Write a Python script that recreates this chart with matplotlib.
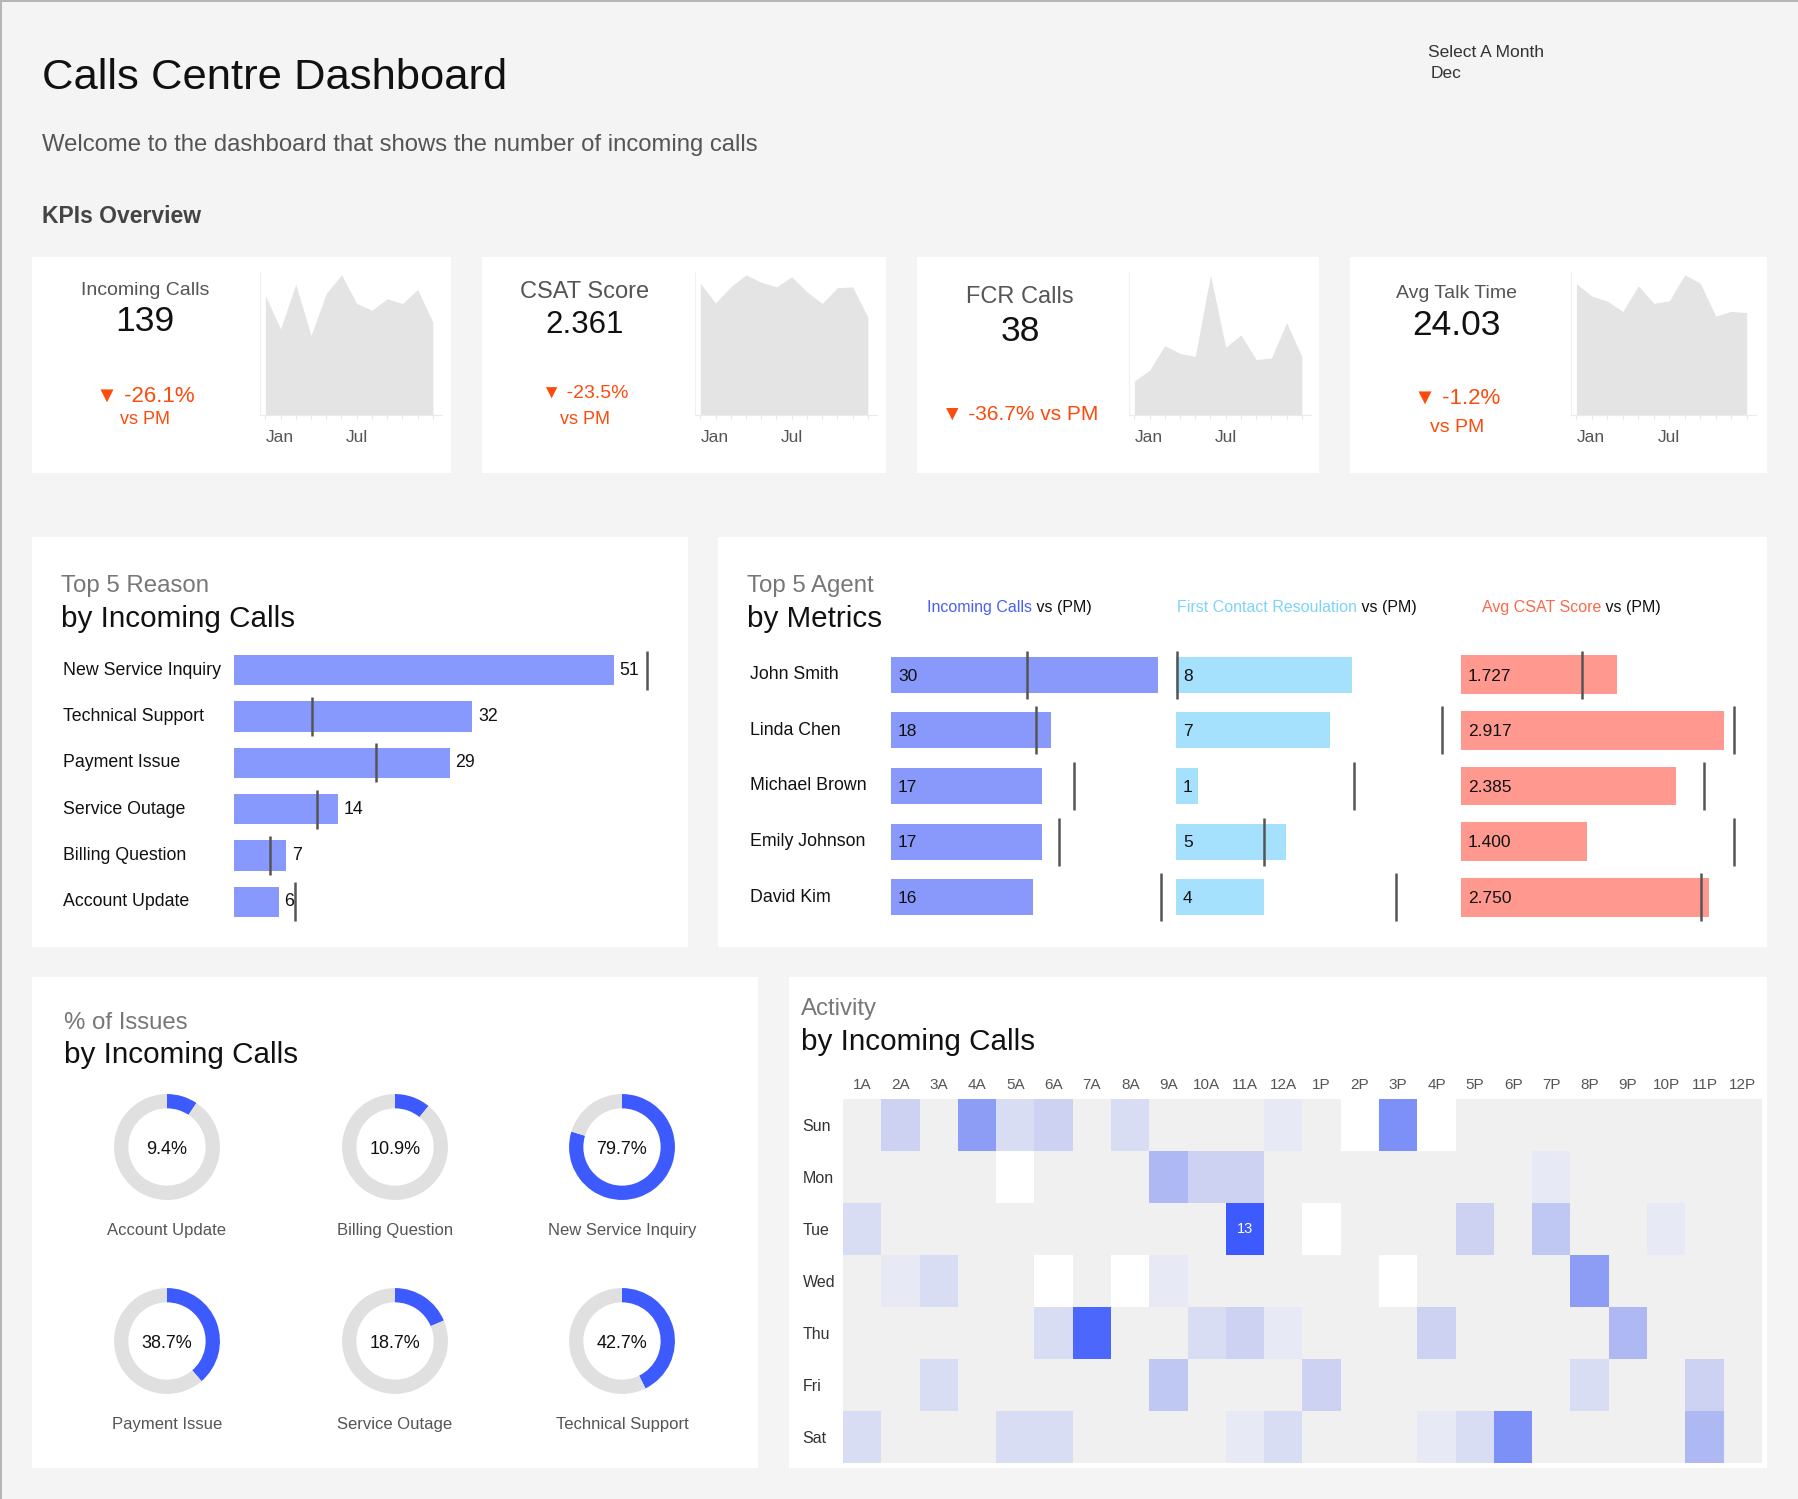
import matplotlib.pyplot as plt
import numpy as np
from matplotlib.colors import LinearSegmentedColormap
from matplotlib.patches import Rectangle
from matplotlib.transforms import blended_transform_factory

plt.rcParams['font.family'] = ['Liberation Sans', 'DejaVu Sans']

# ---- data ----
months = ['Jan', 'Feb', 'Mar', 'Apr', 'May', 'Jun', 'Jul', 'Aug', 'Sep', 'Oct', 'Nov', 'Dec']
kpi_names = ['Incoming Calls', 'CSAT Score', 'FCR Calls', 'Avg Talk Time']
kpi_values = ['139', '2.361', '38', '24.03']
kpi_deltas = ['-26.1%', '-23.5%', '-36.7%', '-1.2%']
incoming_trend = [179, 129, 196, 119, 182, 210, 167, 157, 174, 167, 188, 139]
csat_trend = [3.175, 2.70, 3.09, 3.38, 3.20, 3.09, 3.33, 2.97, 2.69, 3.07, 3.087, 2.361]
fcr_trend = [22, 29, 45, 40, 38, 91, 44, 52, 36, 37, 60, 38]
talk_trend = [30.8, 27.9, 26.7, 24.3, 30.3, 26.2, 26.8, 32.9, 30.9, 23.2, 24.32, 24.03]

reasons = ['New Service Inquiry', 'Technical Support', 'Payment Issue',
           'Service Outage', 'Billing Question', 'Account Update']
reason_calls = [51, 32, 29, 14, 7, 6]
reason_pm = [55.4, 10.5, 19.1, 11.1, 4.9, 8.2]

agents = ['John Smith', 'Linda Chen', 'Michael Brown', 'Emily Johnson', 'David Kim']
agent_calls = [30, 18, 17, 17, 16]
agent_calls_pm = [15.3, 16.3, 20.6, 18.9, 30.4]
agent_fcr = [8, 7, 1, 5, 4]
agent_fcr_pm = [0.05, 12.1, 8.1, 4.0, 10.0]
agent_csat = [1.727, 2.917, 2.385, 1.400, 2.750]
agent_csat_pm = [1.343, 3.02, 2.69, 3.02, 2.655]

issue_names = ['Account Update', 'Billing Question', 'New Service Inquiry',
               'Payment Issue', 'Service Outage', 'Technical Support']
issue_pct = [9.4, 10.9, 79.7, 38.7, 18.7, 42.7]

hours = ['1A', '2A', '3A', '4A', '5A', '6A', '7A', '8A', '9A', '10A', '11A', '12A',
         '1P', '2P', '3P', '4P', '5P', '6P', '7P', '8P', '9P', '10P', '11P', '12P']
days = ['Sun', 'Mon', 'Tue', 'Wed', 'Thu', 'Fri', 'Sat']
N = None
activity = [
    [N, 4, N, 8, 3, 4, N, 3, N, N, N, 2, N, 1, 9, 1, N, N, N, N, N, N, N, N],
    [N, N, N, N, 1, N, N, N, 6, 4, 4, N, N, N, N, N, N, N, 2, N, N, N, N, N],
    [3, N, N, N, N, N, N, N, N, N, 13, N, 1, N, N, N, 4, N, 5, N, N, 2, N, N],
    [N, 2, 3, N, N, 1, N, 1, 2, N, N, N, N, N, 1, N, N, N, N, 8, N, N, N, N],
    [N, N, N, N, N, 3, 12, N, N, 3, 4, 2, N, N, N, 4, N, N, N, N, 6, N, N, N],
    [N, N, 3, N, N, N, N, N, 5, N, N, N, 4, N, N, N, N, N, N, 3, N, N, 4, N],
    [3, N, N, N, 3, 3, N, N, N, N, 2, 3, N, N, N, 2, 3, 9, N, N, N, N, 6, N],
]

# ---- canvas ----
W, H = 1799, 1499
fig = plt.figure(figsize=(W / 100, H / 100), dpi=100, facecolor='#f4f4f4')
bg = fig.add_axes([0, 0, 1, 1])
bg.set_xlim(0, W)
bg.set_ylim(H, 0)
bg.axis('off')
renderer = fig.canvas.get_renderer()

ORANGE = '#fc4b0c'


def box(x0, y0, x1, y1):
    return fig.add_axes([x0 / W, 1 - y1 / H, (x1 - x0) / W, (y1 - y0) / H])


def card(x0, y0, x1, y1):
    bg.add_patch(Rectangle((x0, y0), x1 - x0, y1 - y0, color='white', lw=0))


def txt(x, y, s, size, color='#111', **kw):
    kw.setdefault('va', 'center')
    # small shift: matplotlib centres on the box including descent
    return bg.text(x, y + 3, s, fontsize=size, color=color, **kw)


# borders
bg.add_patch(Rectangle((0, 0), W, 2, color='#b5b5b5', lw=0))
bg.add_patch(Rectangle((0, 0), 2, H, color='#b5b5b5', lw=0))

txt(42, 75, 'Calls Centre Dashboard', 31.3)
txt(42, 142, 'Welcome to the dashboard that shows the number of incoming calls', 17.2, '#555')
txt(42, 213, 'KPIs Overview', 16.5, '#444', weight='bold')
txt(1428, 49, 'Select A Month', 12.5, '#333')
txt(1431, 70, 'Dec', 12.5, '#333')

# ---- KPI cards ----
cards = [(32, 257, 451, 473), (482, 257, 886, 473), (917, 257, 1319, 473), (1350, 257, 1767, 473)]
spark_x = [(260, 442), (695, 877), (1129, 1311), (1571, 1756)]
text_x = [145, 585, 1020, 1457]
name_style = [(287, 14), (289, 17), (294, 17), (290, 14)]
value_style = [(318, 25.5), (322, 22.5), (328, 25.5), (322, 25.5)]
delta_style = [(393, 16, 416, 13), (390, 14, 416, 13), (411, 15, None, None), (395, 16, 424, 14)]
trends = [incoming_trend, csat_trend, fcr_trend, talk_trend]

for k in range(4):
    card(*cards[k])
    cx = text_x[k]
    txt(cx, name_style[k][0], kpi_names[k], name_style[k][1], '#555', ha='center')
    txt(cx, value_style[k][0], kpi_values[k], value_style[k][1], '#111', ha='center')
    dy, ds, vy, vs = delta_style[k]
    if vy is None:
        txt(cx, dy, '\u25bc ' + kpi_deltas[k] + ' vs PM', ds, ORANGE, ha='center')
    else:
        txt(cx, dy, '\u25bc ' + kpi_deltas[k], ds, ORANGE, ha='center')
        txt(cx, vy, 'vs PM', vs, ORANGE, ha='center')

    vals = trends[k]
    x0, x1 = spark_x[k]
    ax = box(x0, 272, x1, 415)
    ax.fill_between(range(12), vals, color='#e4e4e4', lw=0)
    ax.set_xlim(-0.35, 11.6)
    ax.set_ylim(0, max(vals) * 1.02)
    ax.set_yticks([])
    ax.set_xticks(range(12))
    ax.set_xticklabels([m if m in ('Jan', 'Jul') else '' for m in months], fontsize=12.5, color='#555')
    ax.get_xticklabels()[0].set_ha('left')
    ax.tick_params(axis='x', length=3, color='#e8e8e8', pad=8)
    ax.spines['top'].set_visible(False)
    ax.spines['right'].set_visible(False)
    ax.spines['left'].set_color('#f0f0f0')
    ax.spines['bottom'].set_color('#ebebeb')
    ax.patch.set_alpha(0)

# ---- Top 5 Reason ----
card(32, 537, 688, 947)
txt(61, 583, 'Top 5 Reason', 17.3, '#777')
txt(61, 616, 'by Incoming Calls', 21.3, '#111')
ax = box(234, 647, 660, 925)
rows = np.arange(len(reasons))
ax.barh(rows, reason_calls, height=0.65, color='#8799fc')
ax.vlines(reason_pm, rows - 0.42, rows + 0.42, color='#555', lw=1.8)
ax.set_xlim(0, 57.2)
ax.set_ylim(len(reasons) - 0.5, -0.5)
ax.axis('off')
tr = blended_transform_factory(ax.transAxes, ax.transData)
for i, (name, v) in enumerate(zip(reasons, reason_calls)):
    ax.annotate(str(v), (v, i), xytext=(4, 0), textcoords='offset points',
                va='center', fontsize=12.8, color='#111')
    ax.text(-0.401, i, name, transform=tr, va='center', fontsize=12.8, color='#111')

# ---- Top 5 Agent ----
card(718, 537, 1767, 947)
txt(747, 583, 'Top 5 Agent', 17.3, '#777')
txt(747, 616, 'by Metrics', 21.3, '#111')

headers = [('Incoming Calls', '#4a5ff7', 927), ('First Contact Resoulation', '#7fd3fb', 1177),
           ('Avg CSAT Score', '#fa6a4c', 1482)]
for label, col, hx in headers:
    t = txt(hx, 609, label, 11.5, col, va='baseline')
    bb = t.get_window_extent(renderer)
    xe = bg.transData.inverted().transform((bb.x1, bb.y0))[0]
    txt(xe, 609, ' vs (PM)', 11.5, '#111', va='baseline')

metrics = [
    (agent_calls, agent_calls_pm, '{:d}', (891, 1165), 30.8, '#8899fb', 0.65),
    (agent_fcr, agent_fcr_pm, '{:d}', (1176, 1445), 12.23, '#a5e1fd', 0.65),
    (agent_csat, agent_csat_pm, '{:.3f}', (1461, 1738), 3.067, '#ff998f', 0.7),
]
arows = np.arange(len(agents))
for m, (vals, pm, fmt, (x0, x1), xmax, col, bh) in enumerate(metrics):
    ax = box(x0, 647, x1, 925)
    ax.barh(arows, vals, height=bh, color=col)
    ax.vlines(pm, arows - 0.43, arows + 0.43, color='#555', lw=1.8)
    ax.set_xlim(0, xmax)
    ax.set_ylim(len(agents) - 0.5, -0.5)
    ax.axis('off')
    for i, v in enumerate(vals):
        ax.annotate(fmt.format(v), (0, i), xytext=(5, -1), textcoords='offset points',
                    va='center', fontsize=12.5, color='#111')
    if m == 0:
        tr = blended_transform_factory(ax.transAxes, ax.transData)
        for i, name in enumerate(agents):
            ax.text(-0.515, i, name, transform=tr, va='center', fontsize=12.8, color='#111')

# ---- % of Issues donuts ----
card(32, 977, 758, 1468)
txt(64, 1020, '% of Issues', 17.3, '#777')
txt(64, 1052, 'by Incoming Calls', 21.3, '#111')
dx = [167, 395, 622]
dy = [1147, 1341]
R = 54
for k, (name, p) in enumerate(zip(issue_names, issue_pct)):
    cx, cy = dx[k % 3], dy[k // 3]
    ax = box(cx - R, cy - R, cx + R, cy + R)
    ax.pie([p, 100 - p], colors=['#3d5afe', '#e0e0e0'], startangle=90, counterclock=False,
           radius=1, wedgeprops=dict(width=0.27, linewidth=0))
    ax.set_xlim(-1.02, 1.02)
    ax.set_ylim(-1.02, 1.02)
    ax.text(0, -0.04, f'{p}%', ha='center', va='center', fontsize=13, color='#111')
    txt(cx, cy + 81, name, 12, '#555', ha='center')

# ---- Activity heatmap ----
card(789, 977, 1767, 1468)
txt(801, 1006, 'Activity', 17.3, '#777')
txt(801, 1039, 'by Incoming Calls', 21.3, '#111')
data = np.array(activity, dtype=float)
cmap = LinearSegmentedColormap.from_list(
    'act', [(0, '#ffffff'), (0.1, '#e3e5f3'), (0.3, '#c6cdf3'), (0.6, '#8a9bf7'), (1, '#3d5afe')])
cmap.set_bad('#f0f0f0')
ax = box(843, 1099, 1762, 1463)
ax.imshow(np.ma.masked_invalid(data), cmap=cmap, vmin=1, vmax=13, aspect='auto',
          interpolation='nearest')
ax.set_xticks(range(len(hours)))
ax.set_xticklabels(hours)
ax.xaxis.tick_top()
ax.tick_params(axis='x', length=0, labelsize=11, labelcolor='#555', pad=5)
ax.set_yticks(range(len(days)))
ax.set_yticklabels(days)
ax.tick_params(axis='y', length=0, labelsize=11.5, labelcolor='#333', pad=29)
for lab in ax.get_yticklabels():
    lab.set_ha('left')
for s in ax.spines.values():
    s.set_visible(False)
r, c = np.unravel_index(np.nanargmax(data), data.shape)
ax.text(c, r, f'{int(data[r, c])}', color='white', ha='center', va='center', fontsize=10.5)

fig.savefig('out.png', dpi=100, facecolor=fig.get_facecolor())
